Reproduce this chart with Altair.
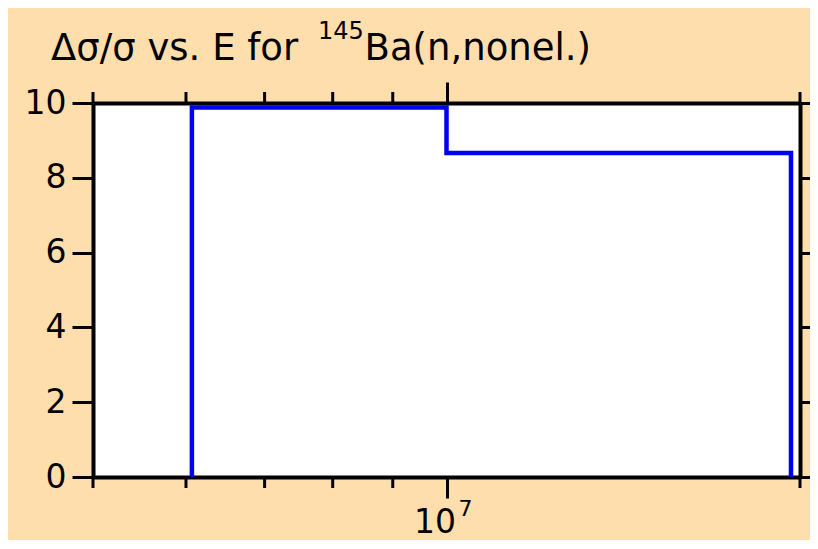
import altair as alt
import pandas as pd

# ---- data ----
edges = [6.07e6, 1.0e7, 1.965e7]        # bin edges (eV)
values = [9.88, 8.66]                   # relative uncertainty per bin
x_domain = [5e6, 2e7]
y_domain = [0, 10]
y_ticks = [0, 2, 4, 6, 8, 10]
major_x = [1e7]
minor_x = [5e6, 6e6, 7e6, 8e6, 9e6, 2e7]
x_label_base = ["10"]
x_label_exp = ["7"]
title_parts = ["Δσ/σ vs. E for", "145", "Ba(n,nonel.)"]

# histogram outline vertices built from edges/values
xs, ys = [edges[0]], [0]
for i, v in enumerate(values):
    xs += [edges[i], edges[i + 1]]
    ys += [v, v]
xs.append(edges[-1])
ys.append(0)
step = pd.DataFrame({"E": xs, "r": ys, "i": list(range(len(xs)))})

FONT = "DejaVu Sans"
W, H = 707, 374
xscale = alt.Scale(type="log", domain=x_domain, nice=False)
yscale = alt.Scale(domain=y_domain, nice=False)
ax = dict(domainColor="black", domainWidth=4, tickColor="black", tickWidth=3,
          grid=False, labelFont=FONT, labelColor="black", title=None)

line = alt.Chart(step).mark_line(color="#0000f0", strokeWidth=4.5).encode(
    x=alt.X("E:Q", scale=xscale,
            axis=alt.Axis(orient="bottom", values=major_x, tickSize=21, labels=False, **ax)),
    y=alt.Y("r:Q", scale=yscale,
            axis=alt.Axis(orient="left", values=y_ticks, tickSize=21, labelFontSize=33,
                          labelPadding=6, **ax)),
    order="i:Q",
)

frame = alt.Chart(step).mark_point(opacity=0).encode(
    x=alt.X("E:Q", scale=xscale,
            axis=alt.Axis(orient="top", values=major_x, tickSize=21, labels=False, **ax)),
    y=alt.Y("r:Q", scale=yscale,
            axis=alt.Axis(orient="right", values=y_ticks, tickSize=21, labels=False, **ax)),
)

minor_df = pd.DataFrame({"E": minor_x})
minor_bottom = alt.Chart(minor_df).mark_rule(color="black", strokeWidth=3).encode(
    x=alt.X("E:Q", scale=xscale, axis=None),
    y=alt.value(H), y2=alt.value(H + 11),
)
minor_top = alt.Chart(minor_df).mark_rule(color="black", strokeWidth=3).encode(
    x=alt.X("E:Q", scale=xscale, axis=None),
    y=alt.value(0), y2=alt.value(-11),
)

lab = pd.DataFrame({"E": major_x, "base": x_label_base, "exp": x_label_exp})
base_text = alt.Chart(lab).mark_text(font=FONT, fontSize=33, align="right",
                                     baseline="alphabetic", dx=9.5, color="black").encode(
    x=alt.X("E:Q", scale=xscale, axis=None), y=alt.value(430), text="base:N")
exp_text = alt.Chart(lab).mark_text(font=FONT, fontSize=22, align="left",
                                    baseline="alphabetic", dx=12, color="black").encode(
    x=alt.X("E:Q", scale=xscale, axis=None), y=alt.value(413), text="exp:N")

t1 = alt.Chart(pd.DataFrame({"t": [title_parts[0]]})).mark_text(
    font=FONT, fontSize=37, align="left", baseline="alphabetic", color="black").encode(
    x=alt.value(-42), y=alt.value(-43), text="t:N")
t2 = alt.Chart(pd.DataFrame({"t": [title_parts[1]]})).mark_text(
    font=FONT, fontSize=24, align="left", baseline="alphabetic", color="black").encode(
    x=alt.value(225), y=alt.value(-64), text="t:N")
t3 = alt.Chart(pd.DataFrame({"t": [title_parts[2]]})).mark_text(
    font=FONT, fontSize=37, align="left", baseline="alphabetic", color="black").encode(
    x=alt.value(271.5), y=alt.value(-43), text="t:N")

chart = alt.layer(line, frame, minor_bottom, minor_top, base_text, exp_text, t1, t2, t3).resolve_axis(
    x="independent", y="independent"
).properties(
    width=W, height=H, autosize="none",
    padding={"left": 85, "top": 95, "right": 10, "bottom": 63},
).configure(background="#FFDEAD").configure_view(fill="white", stroke="transparent")

chart.save("out.html", embed_options={"renderer": "svg", "actions": False})
